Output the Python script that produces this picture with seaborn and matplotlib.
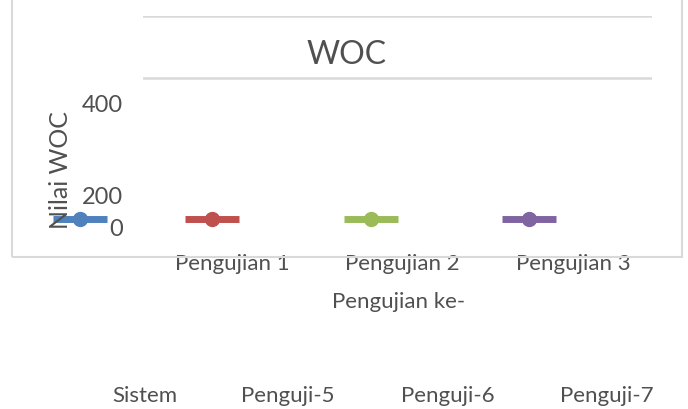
import matplotlib
matplotlib.use("Agg")
import matplotlib.pyplot as plt
from matplotlib.lines import Line2D
from matplotlib.patches import Rectangle
import seaborn as sns

# chart text and categories
title = "WOC"
x_title = "Pengujian ke-"
y_title = "Nilai WOC"
categories = ["Pengujian 1", "Pengujian 2", "Pengujian 3"]
series = ["Sistem", "Penguji-5", "Penguji-6", "Penguji-7"]
y_labels = ["0", "200", "400"]

sns.set_theme(style="white")
plt.rcParams["font.family"] = ["Lato", "DejaVu Sans"]

grey = "#505050"
line_grey = "#d9d9d9"
colors = ["#4f81bd", "#c0504d", "#9bbb59", "#8064a2"]

W, H = 688, 410
fig = plt.figure(figsize=(W / 100, H / 100), dpi=100)


def fx(px):
    return px / W


def fy(py):
    return 1 - py / H


# outer chart border (top is cut off)
fig.add_artist(Rectangle((fx(12), fy(258)), fx(682) - fx(12), 1.0,
                         fill=False, ec=line_grey, lw=1.5,
                         transform=fig.transFigure))

# plot area
ax = fig.add_axes([fx(143), fy(229), fx(652) - fx(143), fy(17) - fy(229)])
ax.set_facecolor("none")
ax.set_xlim(-0.522, 2.463)
ax.set_ylim(0, 1)
ax.set_xticks(range(len(categories)), categories)
ax.tick_params(axis="x", length=0, pad=18, labelsize=16, labelcolor=grey)
ax.set_yticks([(229 - 79) / 212, 1.0])
ax.tick_params(axis="y", length=0, labelleft=False)
ax.grid(axis="y", color=line_grey, lw=1.8)
sns.despine(ax=ax, left=True, bottom=True)

# title and axis titles
fig.text(fx(347), fy(55), title, ha="center", va="center", fontsize=23, color=grey)
fig.text(fx(399), fy(302), x_title, ha="center", va="center", fontsize=16, color=grey)
fig.text(fx(60), fy(170), y_title, ha="center", va="center", rotation=90,
         fontsize=18, color=grey)

# value axis labels (shifted, as in the original render)
for lab, py in zip(y_labels, [229, 198, 106]):
    fig.text(fx(123), fy(py), lab, ha="right", va="center", fontsize=17, color=grey)

# legend keys and their labels, drawn apart as in the original
for name, col, kx, tx in zip(series, colors, [80, 212, 371, 529], [145, 288, 448, 607]):
    fig.add_artist(Line2D([fx(kx - 27), fx(kx + 27)], [fy(220), fy(220)],
                          color=col, lw=5, solid_capstyle="butt",
                          transform=fig.transFigure))
    fig.add_artist(Line2D([fx(kx)], [fy(220)], marker="o", markersize=10,
                          color=col, transform=fig.transFigure))
    fig.text(fx(tx), fy(396), name, ha="center", va="center", fontsize=16, color=grey)

fig.savefig("out.png", dpi=100)
